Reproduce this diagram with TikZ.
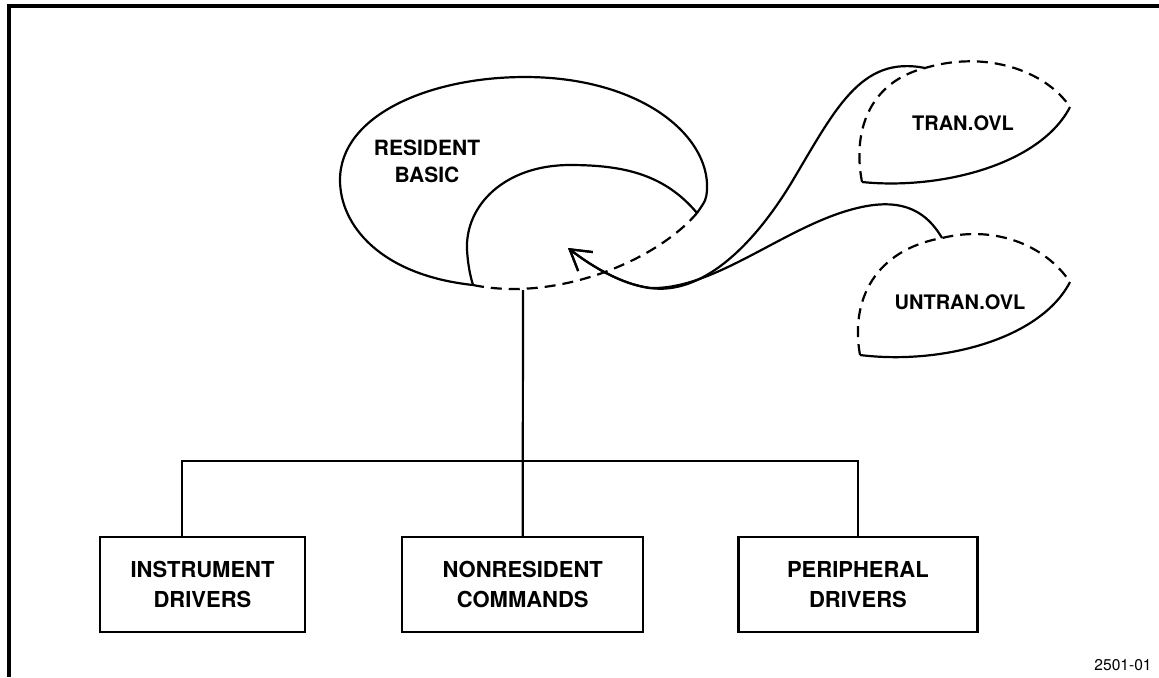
\documentclass[tikz,border=0pt]{standalone}
\usepackage{fontspec}
\setmainfont{TeX Gyre Heros}
\usetikzlibrary{arrows.meta,positioning}

\begin{document}
\begin{tikzpicture}[x=0.5pt,y=-0.5pt,line width=1.1pt,
  box/.style={draw,rectangle,minimum height=47.5pt,align=center,
    font=\fontsize{11}{15}\selectfont\bfseries},
  lbl/.style={align=center,font=\fontsize{10.5}{13.5}\selectfont\bfseries},
  ovllbl/.style={font=\fontsize{10}{12}\selectfont\bfseries},
  gap/.style={dash pattern=on 5.5pt off 3.5pt},
  hook/.style={-{Straight Barb[length=10pt,width=12pt,line width=1.1pt]}}]
  \useasboundingbox (0,0) rectangle (1159,677);
  % frame
  \draw[line width=1.6pt] (9,677) |- (1159,6);

  % resident part
  \node[lbl] (resbasic) at (427,161) {RESIDENT\\BASIC};
  \coordinate (cuspA) at (473,285);
  \coordinate (cuspB) at (697,213);
  \coordinate (basic) at (523,290);
  \draw (cuspA) .. controls (380,275) and (340,225) .. (340,180)
    .. controls (340,115) and (430,77) .. (525,77)
    .. controls (640,77) and (710,135) .. (707,190)
    .. controls (706,200) .. (cuspB);
  \draw (cuspB) .. controls (665,175) and (625,165) .. (570,165)
    .. controls (505,165) and (465,205) .. (467,250)
    .. controls (468,265) and (470,275) .. (cuspA);
  \draw[gap] (cuspA) .. controls (555,302) and (655,262) .. (cuspB);

  % overlays
  \node[ovllbl] (tran) at (963,123) {TRAN.OVL};
  \node[ovllbl] (untran) at (960,302) {UNTRAN.OVL};
  \coordinate (tranL) at (862,182);
  \coordinate (tranR) at (1070,107);
  \coordinate (tranjoin) at (925,68);
  \coordinate (untranL) at (860,355);
  \coordinate (untranR) at (1070,282);
  \coordinate (untranjoin) at (942,238);
  \draw[gap] (tranL) .. controls (852,130) and (870,82) .. (tranjoin)
    .. controls (985,50) and (1045,70) .. (tranR);
  \draw (tranR) .. controls (1040,165) and (940,190) .. (tranL);
  \draw[gap] (untranL) .. controls (850,300) and (875,250) .. (untranjoin)
    .. controls (995,225) and (1045,245) .. (untranR);
  \draw (untranR) .. controls (1040,340) and (940,365) .. (untranL);

  % loading paths
  \coordinate (tip) at (568,248);
  \draw[hook] (tranjoin) .. controls (860,55) and (835,110) .. (790,185)
    .. controls (750,250) and (700,295) .. (650,288)
    .. controls (620,284) and (590,265) .. (tip);
  \draw[hook] (untranjoin) .. controls (920,200) and (885,198) .. (840,213)
    .. controls (775,235) and (710,290) .. (650,288)
    .. controls (620,284) and (590,265) .. (tip);

  % nonresident parts
  \node[box,minimum width=102.5pt] (idrv) at (202.5,584.5) {INSTRUMENT\\DRIVERS};
  \node[box,minimum width=120.5pt,right=47.5pt of idrv] (nrcmd) {NONRESIDENT\\COMMANDS};
  \node[box,minimum width=119.5pt,right=46.5pt of nrcmd] (pdrv) {PERIPHERAL\\DRIVERS};
  \coordinate (bus) at (523,461);
  \draw (basic) -- (nrcmd.north);
  \draw ([xshift=-10.25pt]idrv.north) |- (bus) -| (pdrv.north);

  \node[font=\fontsize{7.8}{9}\selectfont] (fignum) at (1123,665) {2501-01};
\end{tikzpicture}
\end{document}
